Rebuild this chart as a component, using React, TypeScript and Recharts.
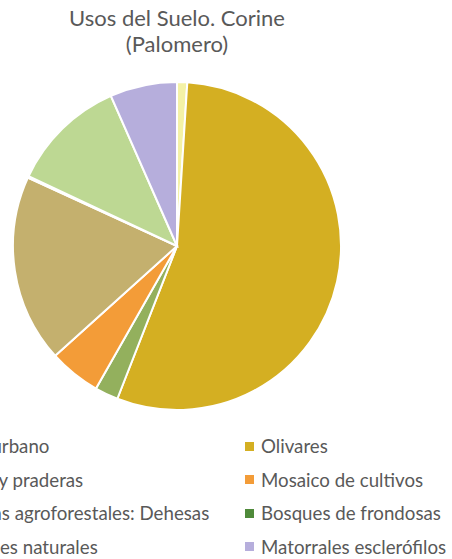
import { PieChart, Pie, Cell, Legend } from "recharts"

const categories = [
  "Tejido urbano",
  "Olivares",
  "Prados y praderas",
  "Mosaico de cultivos",
  "Sistemas agroforestales: Dehesas",
  "Bosques de frondosas",
  "Pastizales naturales",
  "Matorrales esclerófilos",
]
const shares = [1.0, 54.9, 2.3, 5.1, 18.5, 0.15, 11.4, 6.6]
const colors = ["#f4f2a6", "#d4af22", "#93b05d", "#f39c38", "#c4b06e", "#4f8a3a", "#bdd893", "#b6aedc"]

const data = categories.map((name, i) => ({ name, value: shares[i] }))

// the reference is a crop: the left part of the chart lies outside the picture
const OFFSET = 150
const FONT = "Lato, 'Open Sans', sans-serif"
const GREY = "#595959"

function SplitLegend() {
  return (
    <div style={{ position: "relative", width: 600, height: 130, fontFamily: FONT, fontSize: 18.7, color: GREY }}>
      {categories.map((name, i) => {
        const col = i % 2
        const row = Math.floor(i / 2)
        const left = col === 0 ? OFFSET - 62 - 16 : OFFSET + 245
        return (
          <div
            key={name}
            style={{
              position: "absolute",
              left,
              top: row * 33.5,
              height: 24,
              display: "flex",
              alignItems: "center",
              whiteSpace: "nowrap",
            }}
          >
            <span style={{ width: 9, height: 9, background: colors[i], marginRight: 7, flex: "none" }} />
            <span>{name}</span>
          </div>
        )
      })}
    </div>
  )
}

export default function App() {
  return (
    <div style={{ position: "absolute", left: -OFFSET, top: 0, width: 600, height: 559, background: "#fff" }}>
      <div
        style={{
          position: "absolute",
          left: OFFSET + 177 - 200,
          top: 5,
          width: 400,
          textAlign: "center",
          fontFamily: FONT,
          fontSize: 22,
          color: GREY,
          lineHeight: "26px",
        }}
      >
        Usos del Suelo. Corine
        <br />
        (Palomero)
      </div>
      <PieChart width={600} height={559} margin={{ top: 0, right: 0, bottom: 0, left: 0 }}>
        <Pie
          data={data}
          dataKey="value"
          nameKey="name"
          cx={OFFSET + 177}
          cy={246}
          outerRadius={164}
          startAngle={90}
          endAngle={-270}
          stroke="#ffffff"
          strokeWidth={2}
          isAnimationActive={false}
        >
          {data.map((d, i) => (
            <Cell key={d.name} fill={colors[i]} />
          ))}
        </Pie>
        <Legend
          content={() => <SplitLegend />}
          wrapperStyle={{ position: "absolute", left: 0, top: 434, width: 600, height: 130 }}
        />
      </PieChart>
    </div>
  )
}
